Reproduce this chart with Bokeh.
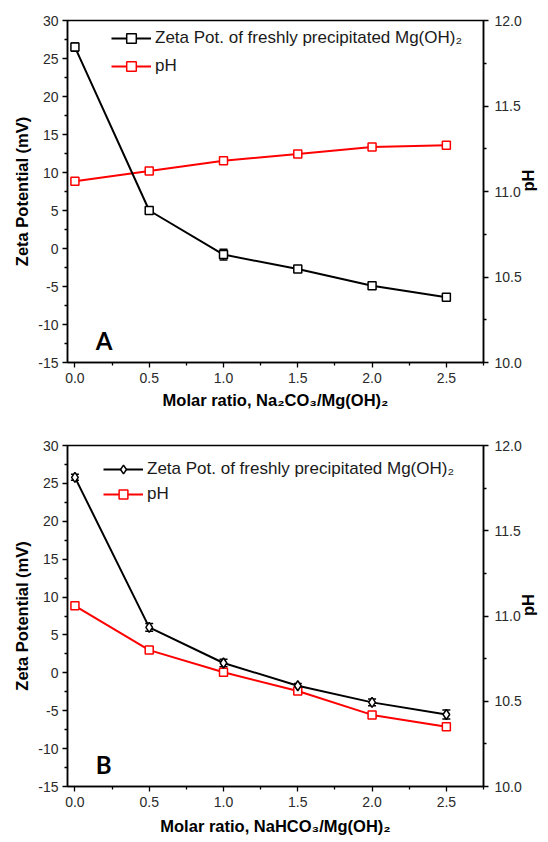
import math
from bokeh.plotting import figure
from bokeh.models import (ColumnDataSource, LinearAxis, Range1d, Whisker, TeeHead,
                          Legend, LegendItem, Label, FixedTicker)
from bokeh.layouts import column
from bokeh.embed import file_html
from bokeh.resources import INLINE

# ---------------- data ----------------
molar_ratio = [0.0, 0.5, 1.0, 1.5, 2.0, 2.5]

zeta_a = [26.5, 5.0, -0.8, -2.7, -4.9, -6.4]
zeta_a_err = [0.55, 0.25, 0.7, 0.3, 0.3, 0.15]
ph_a = [11.06, 11.12, 11.18, 11.22, 11.26, 11.27]

zeta_b = [25.8, 6.0, 1.3, -1.7, -3.9, -5.5]
zeta_b_err = [0.4, 0.5, 0.5, 0.3, 0.45, 0.6]
ph_b = [11.06, 10.80, 10.67, 10.56, 10.42, 10.35]

x_ticks = [0.0, 0.5, 1.0, 1.5, 2.0, 2.5]
x_tick_labels = ["0.0", "0.5", "1.0", "1.5", "2.0", "2.5"]
zeta_ticks = [-15, -10, -5, 0, 5, 10, 15, 20, 25, 30]
zeta_tick_labels = ["-15", "-10", "-5", "0", "5", "10", "15", "20", "25", "30"]
ph_ticks = [10.0, 10.5, 11.0, 11.5, 12.0]
ph_tick_labels = ["10.0", "10.5", "11.0", "11.5", "12.0"]

zeta_label = "Zeta Pot. of freshly precipitated Mg(OH)\u2082"
ph_label = "pH"
x_label_a = "Molar ratio, Na\u2082CO\u2083/Mg(OH)\u2082"
x_label_b = "Molar ratio, NaHCO\u2083/Mg(OH)\u2082"

FONT = "Liberation Sans"
W = 548


def style_axis(ax, ticks, labels, minor):
    ax.ticker = FixedTicker(ticks=ticks, minor_ticks=minor)
    ax.major_label_overrides = {t: l for t, l in zip(ticks, labels)}
    ax.major_label_text_font = FONT
    ax.major_label_text_font_size = "14px"
    ax.major_label_text_color = "#2a2a2a"
    ax.axis_label_text_font = FONT
    ax.axis_label_text_font_size = "16.5px"
    ax.axis_label_text_font_style = "bold"
    ax.axis_label_text_color = "black"
    ax.axis_line_color = "black"
    ax.axis_line_width = 1.5
    ax.major_tick_line_color = "black"
    ax.major_tick_line_width = 1.3
    ax.minor_tick_line_color = "black"
    ax.minor_tick_line_width = 1.3
    ax.major_tick_in = 0
    ax.major_tick_out = 5
    ax.minor_tick_in = 0
    ax.minor_tick_out = 3


def make_panel(zeta, zeta_err, ph, marker, x_label, letter, height,
               border_top, border_bottom, border_left, border_right,
               legend_loc, legend_glyph_h, legend_spacing, letter_y, xlabel_standoff):
    p = figure(width=W, height=height, output_backend="svg", toolbar_location=None,
               x_range=Range1d(-0.05, 2.75), y_range=Range1d(-15, 30),
               min_border_top=border_top, min_border_bottom=border_bottom,
               min_border_left=border_left, min_border_right=border_right)
    p.extra_y_ranges = {"ph": Range1d(10, 12)}
    p.xgrid.visible = False
    p.ygrid.visible = False
    p.outline_line_color = "black"
    p.outline_line_width = 1.5
    p.background_fill_color = "white"
    p.border_fill_color = "white"

    minor_x = [0.25, 0.75, 1.25, 1.75, 2.25, 2.75]
    minor_zeta = [-12.5, -7.5, -2.5, 2.5, 7.5, 12.5, 17.5, 22.5, 27.5]
    minor_ph = [10.25, 10.75, 11.25, 11.75]

    style_axis(p.xaxis[0], x_ticks, x_tick_labels, minor_x)
    p.xaxis[0].axis_label = x_label
    p.xaxis[0].major_label_standoff = 5
    p.xaxis[0].axis_label_standoff = xlabel_standoff

    style_axis(p.yaxis[0], zeta_ticks, zeta_tick_labels, minor_zeta)
    p.yaxis[0].axis_label = "Zeta Potential (mV)"
    p.yaxis[0].major_label_standoff = 4
    p.yaxis[0].axis_label_standoff = 4

    ax_r = LinearAxis(y_range_name="ph", axis_label="pH")
    style_axis(ax_r, ph_ticks, ph_tick_labels, minor_ph)
    ax_r.major_label_standoff = 6
    ax_r.axis_label_standoff = 3
    if "axis_label_orientation" in ax_r.properties():
        # read bottom-to-top, like the left-hand axis title
        ax_r.axis_label_orientation = math.pi / 2
    p.add_layout(ax_r, "right")

    src = ColumnDataSource(dict(
        x=molar_ratio, zeta=zeta, ph=ph,
        upper=[z + e for z, e in zip(zeta, zeta_err)],
        lower=[z - e for z, e in zip(zeta, zeta_err)],
    ))

    ph_line = p.line("x", "ph", source=src, y_range_name="ph",
                     line_color="#ff0000", line_width=2)
    ph_pts = p.scatter("x", "ph", source=src, y_range_name="ph", marker="square",
                       size=8, line_color="#ff0000", line_width=1.5,
                       fill_color="white")

    z_line = p.line("x", "zeta", source=src, line_color="black", line_width=2)
    z_pts = p.scatter("x", "zeta", source=src, marker=marker,
                      size=8 if marker == "square" else 10,
                      line_color="black", line_width=1.5, fill_color="white")

    wh = Whisker(source=src, base="x", upper="upper", lower="lower",
                 line_color="black", line_width=1.5,
                 upper_head=TeeHead(size=8, line_color="black", line_width=1.5),
                 lower_head=TeeHead(size=8, line_color="black", line_width=1.5))
    p.add_layout(wh)

    legend = Legend(items=[LegendItem(label=zeta_label, renderers=[z_line, z_pts]),
                           LegendItem(label=ph_label, renderers=[ph_line, ph_pts])],
                    location=legend_loc, margin=0, padding=0,
                    glyph_width=40, glyph_height=legend_glyph_h,
                    label_height=legend_glyph_h, spacing=legend_spacing,
                    label_standoff=4,
                    label_text_font=FONT, label_text_font_size="17px",
                    label_text_color="#1a1a1a",
                    border_line_alpha=0, background_fill_alpha=0)
    p.add_layout(legend)

    p.add_layout(Label(x=0.14, y=letter_y, text=letter, text_font="Lato",
                       text_font_size="24px", text_font_style="bold",
                       text_color="black", text_baseline="alphabetic"))
    return p


pA = make_panel(zeta_a, zeta_a_err, ph_a, "square", x_label_a, "A", 420,
                20, 58, 64, 63, (44, 284), 24, 4, -12.1, 5)
pB = make_panel(zeta_b, zeta_b_err, ph_b, "diamond", x_label_b, "B", 422,
                25, 56, 67, 60, (36, 281), 22, 3, -12.1, 7)

layout = column(pA, pB, spacing=0)
open("out.html", "w").write(file_html(layout, INLINE))
